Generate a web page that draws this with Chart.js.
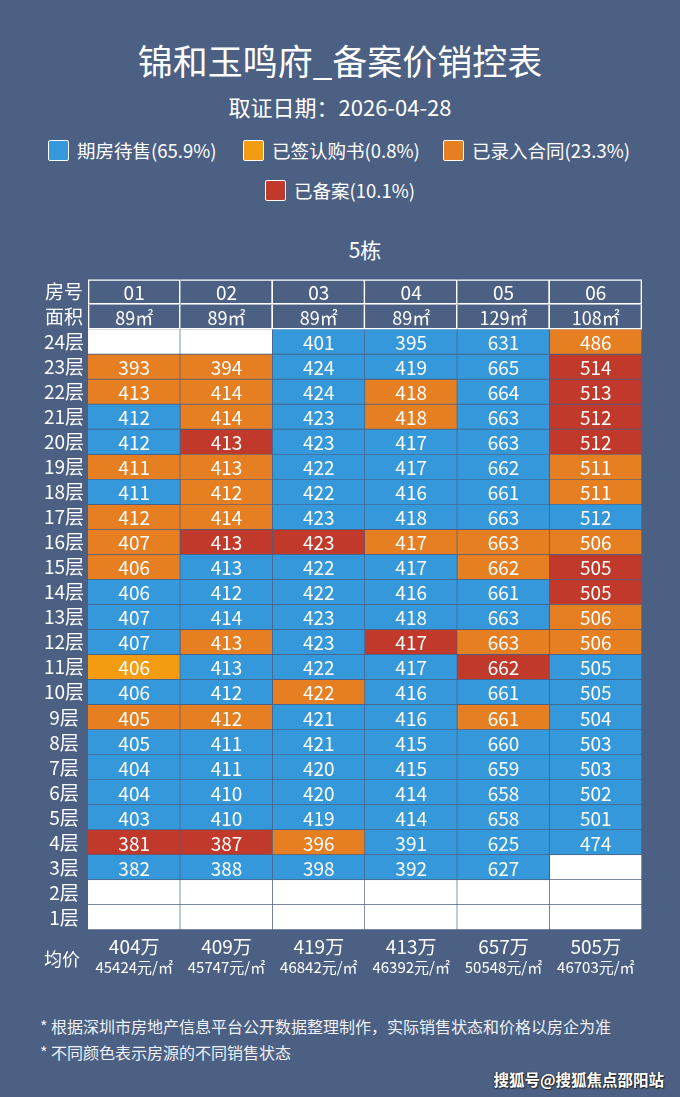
<!DOCTYPE html>
<html>
<head>
<meta charset="utf-8">
<script src="https://cdn.jsdelivr.net/npm/chart.js@4.4.1/dist/chart.umd.min.js"></script>
<style>
  html, body { margin: 0; padding: 0; }
  body {
    width: 680px; height: 1097px; background: #4b6083; position: relative; overflow: hidden;
    font-family: "Noto Sans CJK SC", "Noto Sans", sans-serif; color: #fff;
  }
  .abs { position: absolute; white-space: nowrap; }
  #title { left: 0; width: 680px; top: 36px; text-align: center; font-size: 35px; line-height: 48px; }
  #subtitle { left: 0; width: 680px; top: 91px; text-align: center; font-size: 22px; line-height: 30px; }
  .lg { font-size: 18.5px; line-height: 24px; display: flex; align-items: center; }
  .lg i { display: inline-block; width: 21px; height: 21px; border: 1px solid #fff; border-radius: 2px; margin-right: 8px; box-sizing: border-box; }
  #building { left: 88px; width: 554px; top: 235px; text-align: center; font-size: 21px; line-height: 28px; }
  .note { left: 40px; font-size: 16px; line-height: 22px; color: #eef0f4; }
  #mark { right: 16px; top: 1067px; font-size: 15.5px; font-weight: bold; line-height: 24px; text-shadow: 1px 1px 1px #222, -1px 0 1px #333; }
  #wrap { position: absolute; left: 0; top: 264px; width: 680px; height: 716px; }
</style>
</head>
<body>
<div id="title" class="abs">锦和玉鸣府_备案价销控表</div>
<div id="subtitle" class="abs">取证日期：2026-04-28</div>
<div id="legend"></div>
<div id="building" class="abs">5栋</div>
<div id="wrap"><canvas id="chart" width="680" height="716"></canvas></div>
<div class="abs note" style="top:1015px">* 根据深圳市房地产信息平台公开数据整理制作，实际销售状态和价格以房企为准</div>
<div class="abs note" style="top:1041px">* 不同颜色表示房源的不同销售状态</div>
<div id="mark" class="abs">搜狐号@搜狐焦点邵阳站</div>
<script>
// 房号和面积
const rooms = ['01', '02', '03', '04', '05', '06'];
const areas = ['89㎡', '89㎡', '89㎡', '89㎡', '129㎡', '108㎡'];

// 楼层 (从上到下)
const floors = [24, 23, 22, 21, 20, 19, 18, 17, 16, 15, 14, 13, 12, 11, 10, 9, 8, 7, 6, 5, 4, 3, 2, 1];

// 总价 (万), null = 空白
const prices = [
  [null, null, 401, 395, 631, 486],
  [393, 394, 424, 419, 665, 514],
  [413, 414, 424, 418, 664, 513],
  [412, 414, 423, 418, 663, 512],
  [412, 413, 423, 417, 663, 512],
  [411, 413, 422, 417, 662, 511],
  [411, 412, 422, 416, 661, 511],
  [412, 414, 423, 418, 663, 512],
  [407, 413, 423, 417, 663, 506],
  [406, 413, 422, 417, 662, 505],
  [406, 412, 422, 416, 661, 505],
  [407, 414, 423, 418, 663, 506],
  [407, 413, 423, 417, 663, 506],
  [406, 413, 422, 417, 662, 505],
  [406, 412, 422, 416, 661, 505],
  [405, 412, 421, 416, 661, 504],
  [405, 411, 421, 415, 660, 503],
  [404, 411, 420, 415, 659, 503],
  [404, 410, 420, 414, 658, 502],
  [403, 410, 419, 414, 658, 501],
  [381, 387, 396, 391, 625, 474],
  [382, 388, 398, 392, 627, null],
  [null, null, null, null, null, null],
  [null, null, null, null, null, null]
];

// 销售状态: B 期房待售, Y 已签认购书, O 已录入合同, R 已备案, W 空白
const statusRows = [
  'WWBBBO', 'OOBBBR', 'OOBOBR', 'BOBOBR', 'BRBBBR', 'OOBBBO',
  'BOBBBO', 'OOBBBB', 'ORROOO', 'OBBBOR', 'BBBBBR', 'BBBBBO',
  'BOBROO', 'YBBBRB', 'BBOBBB', 'OOBBOB', 'BBBBBB', 'BBBBBB',
  'BBBBBB', 'BBBBBB', 'RROBBB', 'BBBBBW', 'WWWWWW', 'WWWWWW'
];

const statusCodes = ['B', 'Y', 'O', 'R'];
const statusNames = ['期房待售(65.9%)', '已签认购书(0.8%)', '已录入合同(23.3%)', '已备案(10.1%)'];
const statusColors = ['#3598db', '#f39c12', '#e67e22', '#c0392b'];

// 均价
const avgTotal = ['404万', '409万', '419万', '413万', '657万', '505万'];
const avgUnit = ['45424元/㎡', '45747元/㎡', '46842元/㎡', '46392元/㎡', '50548元/㎡', '46703元/㎡'];

const BG = '#4b6083';
const FONT = '"Noto Sans CJK SC", "Noto Sans", sans-serif';

// 图例
const legendPos = [[48, 138], [243, 138], [443, 138], [265, 178]];
const legendBox = document.getElementById('legend');
statusNames.forEach((name, i) => {
  const d = document.createElement('div');
  d.className = 'abs lg';
  d.style.left = legendPos[i][0] + 'px';
  d.style.top = legendPos[i][1] + 'px';
  d.innerHTML = `<i style="background:${statusColors[i]}"></i>${name}`;
  legendBox.appendChild(d);
});

// 单元格数据
function cellsFor(code) {
  const out = [];
  floors.forEach((f, r) => {
    for (let c = 0; c < rooms.length; c++) {
      if (statusRows[r][c] === code) out.push({ x: rooms[c], y: [f - 0.5, f + 0.5] });
    }
  });
  return out;
}

const cellBorder = { top: 0, left: 0, right: 1, bottom: 1 };

const datasets = statusCodes.map((code, i) => ({
  label: statusNames[i],
  data: cellsFor(code),
  backgroundColor: statusColors[i],
  borderColor: BG,
  borderWidth: cellBorder,
  borderSkipped: false
}));

datasets.push({
  label: 'empty',
  data: cellsFor('W'),
  backgroundColor: '#ffffff',
  borderColor: BG,
  borderWidth: cellBorder,
  borderSkipped: false
});

// 表头两行 (房号 / 面积)
const headerRows = [26, 25];
datasets.push({
  label: 'header',
  data: headerRows.flatMap(f => rooms.map(r => ({ x: r, y: [f - 0.5, f + 0.5] }))),
  backgroundColor: 'rgba(0,0,0,0)',
  borderColor: '#ffffff',
  borderWidth: ctx => ({
    top: ctx.dataIndex < rooms.length ? 1 : 0,
    left: ctx.dataIndex % rooms.length === 0 ? 1 : 0,
    right: 1,
    bottom: 1
  }),
  borderSkipped: false
});

const yTickLabels = { 26: '房号', 25: '面积' };
floors.forEach(f => { yTickLabels[f] = f + '层'; });

// 文字绘制
const textPlugin = {
  id: 'cellText',
  afterDatasetsDraw(chart) {
    const { ctx, scales: { x, y }, chartArea } = chart;
    ctx.save();
    ctx.fillStyle = '#ffffff';
    ctx.textAlign = 'center';
    ctx.textBaseline = 'middle';

    ctx.font = '19px ' + FONT;
    rooms.forEach((r, c) => ctx.fillText(r, x.getPixelForValue(c), y.getPixelForValue(26) + 1));
    ctx.font = '18px ' + FONT;
    areas.forEach((a, c) => ctx.fillText(a, x.getPixelForValue(c), y.getPixelForValue(25) + 1));

    ctx.font = '19px ' + FONT;
    floors.forEach((f, r) => {
      prices[r].forEach((p, c) => {
        if (p !== null) ctx.fillText(String(p), x.getPixelForValue(c), y.getPixelForValue(f) + 1);
      });
    });

    const base = chartArea.bottom;
    ctx.font = '18px ' + FONT;
    ctx.fillText('均价', 62, base + 29);
    ctx.font = '19px ' + FONT;
    avgTotal.forEach((t, c) => ctx.fillText(t, x.getPixelForValue(c), base + 17));
    ctx.font = '15px ' + FONT;
    avgUnit.forEach((t, c) => ctx.fillText(t, x.getPixelForValue(c), base + 37));
    ctx.restore();
  }
};

new Chart(document.getElementById('chart').getContext('2d'), {
  type: 'bar',
  data: { labels: rooms, datasets: datasets },
  options: {
    responsive: false,
    animation: false,
    grouped: false,
    barPercentage: 1,
    categoryPercentage: 1,
    layout: { padding: { top: 0, right: 38, bottom: 50, left: 0 } },
    plugins: {
      legend: { display: false },
      tooltip: { enabled: false }
    },
    scales: {
      x: { type: 'category', display: false, offset: true },
      y: {
        type: 'linear',
        min: 0.5,
        max: 26.5,
        afterBuildTicks: scale => {
          scale.ticks = Object.keys(yTickLabels).map(v => ({ value: Number(v) }));
        },
        afterFit: scale => { scale.width = 88; },
        grid: { display: false, drawTicks: false },
        border: { display: false },
        ticks: {
          autoSkip: false,
          crossAlign: 'center',
          padding: 4,
          color: '#ffffff',
          font: { size: 19, family: FONT },
          callback: v => yTickLabels[v] || ''
        }
      }
    }
  },
  plugins: [textPlugin]
});
</script>
</body>
</html>
